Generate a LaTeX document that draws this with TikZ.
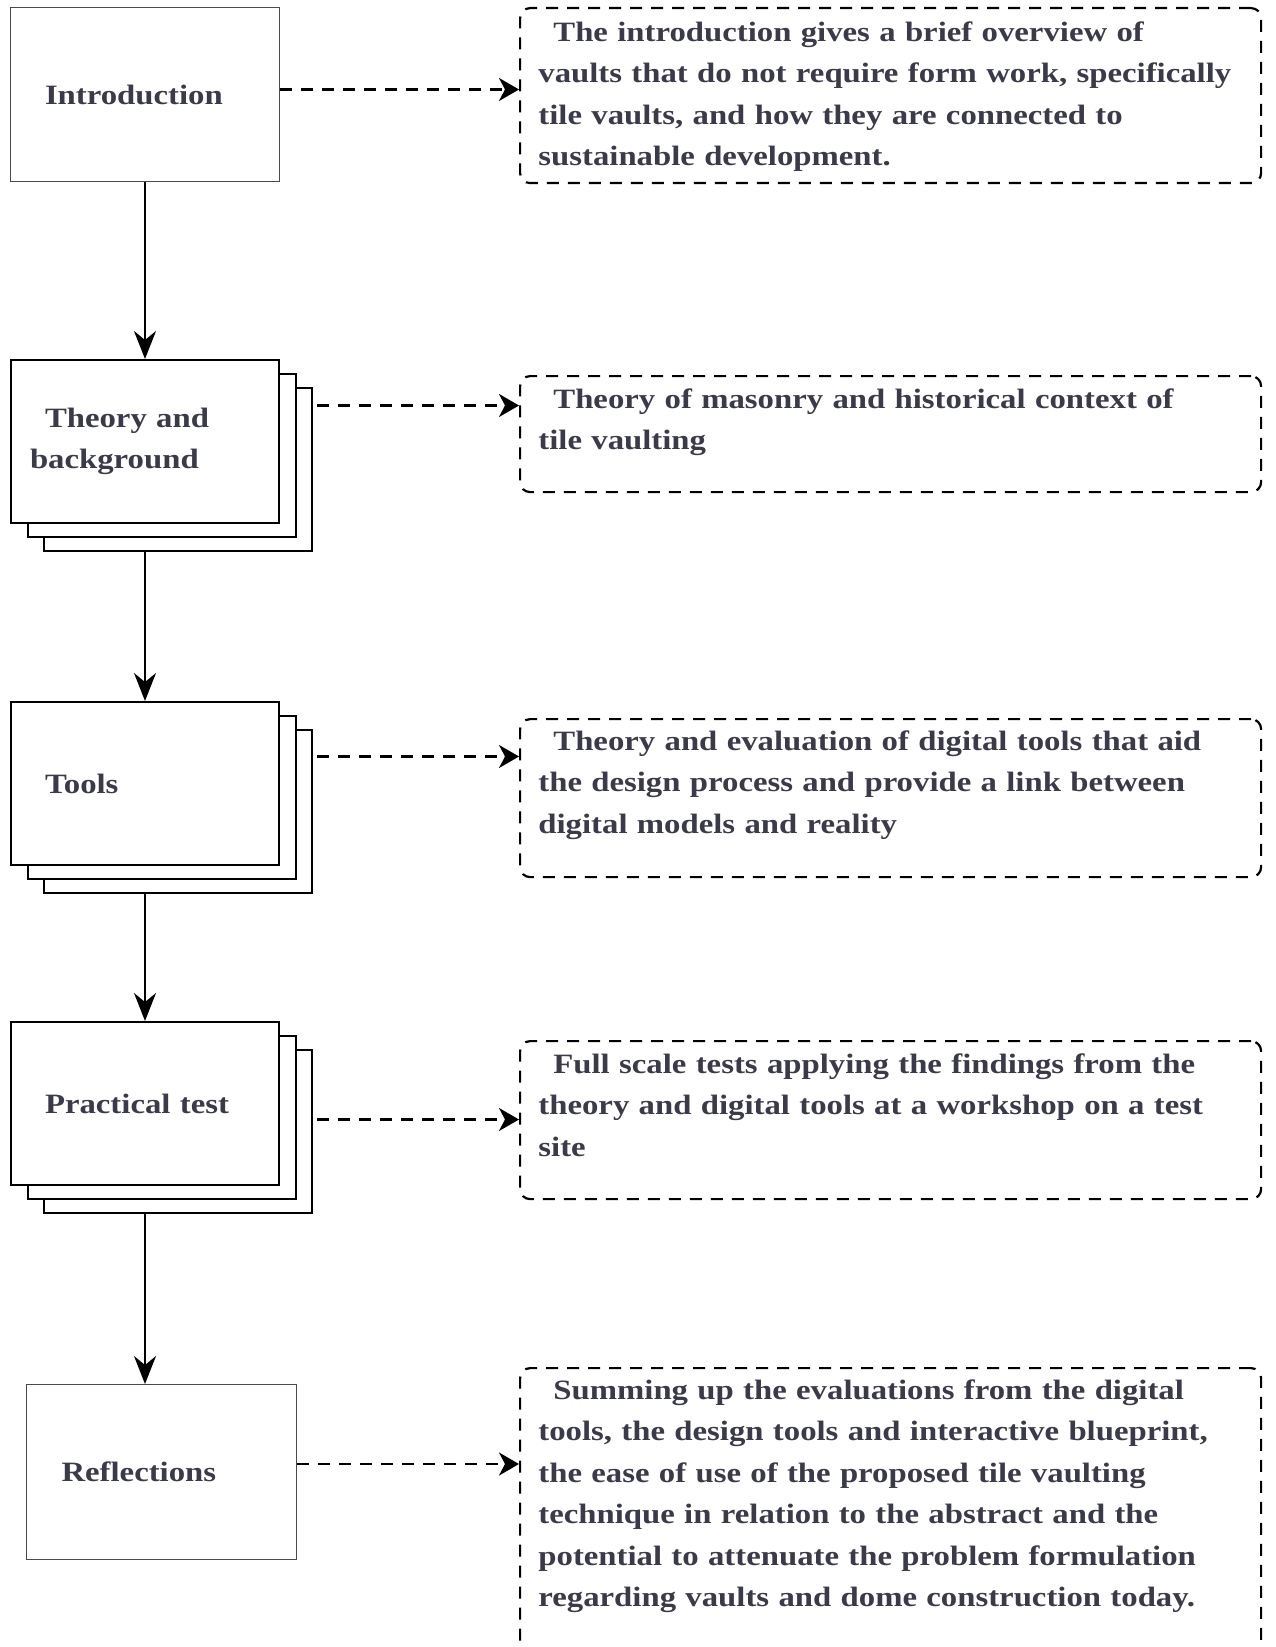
\documentclass[tikz,border=0pt]{standalone}
\usepackage{fontspec}
\setmainfont[FakeStretch=1.17]{Liberation Serif}
\usetikzlibrary{arrows.meta,shadows}
\definecolor{ChText}{HTML}{3B3A48}
\definecolor{ChFrame}{HTML}{4A4A4A}
\newcommand\firstgap{\hspace*{7.5pt}}

\tikzset{
  chapter/.style={draw=ChFrame,line width=0.5pt,fill=white,anchor=north west,
    align=left,text width=115pt,inner xsep=9.5pt,inner ysep=0pt,
    minimum height=87pt,text=ChText,font=\fontsize{14}{20.75}\selectfont\bfseries},
  deck/.style={chapter,draw=black,line width=1pt,minimum height=81.5pt,
    copy shadow={shadow xshift=16.5pt,shadow yshift=-14pt,opacity=1,fill=white,draw=black,line width=1pt},
    copy shadow={shadow xshift=8.25pt,shadow yshift=-7pt,opacity=1,fill=white,draw=black,line width=1pt}},
  note/.style={draw,line width=1.1pt,dash pattern=on 6pt off 4.5pt,rounded corners=5pt,
    anchor=north west,minimum width=370.5pt,inner sep=0pt},
  notetext/.style={anchor=north west,align=left,text width=360pt,inner sep=0pt,
    text=ChText,font=\fontsize{14}{20.75}\selectfont\bfseries},
  flow/.style={-{Stealth[length=14pt,width=11pt,inset=4.5pt]},line width=1pt},
  link/.style={-{Stealth[length=10pt,width=11.5pt,inset=3pt]},line width=1.1pt,dash pattern=on 6pt off 4.5pt}
}

\begin{document}
\begin{tikzpicture}[x=0.5pt,y=-0.5pt]
\path[use as bounding box] (0,0) rectangle (1275,1647);
% chapters
\node[chapter,minimum width=134.5pt] (intro) at (10,7) {\firstgap Introduction};
\node[deck] (theory) at (10,359) {\firstgap Theory and\\background};
\node[deck] (tools) at (10,701) {\firstgap Tools};
\node[deck] (practical) at (10,1021) {\firstgap Practical test};
\node[chapter,minimum width=135pt,minimum height=87.5pt] (reflect) at (26,1384) {\firstgap Reflections};
% descriptions
\node[note,minimum height=87.5pt] (intronote) at (519,7) {};
\node[notetext] (intronotetext) at (538,21) {\firstgap The introduction gives a brief overview of\\
  vaults that do not require form work, specifically\\
  tile vaults, and how they are connected to\\
  sustainable development.};
\node[note,minimum height=58pt] (theorynote) at (519,375) {};
\node[notetext] (theorynotetext) at (538,388) {\firstgap Theory of masonry and historical context of\\
  tile vaulting};
\node[note,minimum height=79pt] (toolsnote) at (519,718) {};
\node[notetext] (toolsnotetext) at (538,730) {\firstgap Theory and evaluation of digital tools that aid\\
  the design process and provide a link between\\
  digital models and reality};
\node[note,minimum height=79pt] (practicalnote) at (519,1040) {};
\node[notetext] (practicalnotetext) at (538,1053) {\firstgap Full scale tests applying the findings from the\\
  theory and digital tools at a workshop on a test\\
  site};
\node[note,minimum height=160pt] (reflectnote) at (519,1367) {};
\node[notetext] (reflectnotetext) at (538,1379) {\firstgap Summing up the evaluations from the digital\\
  tools, the design tools and interactive blueprint,\\
  the ease of use of the proposed tile vaulting\\
  technique in relation to the abstract and the\\
  potential to attenuate the problem formulation\\
  regarding vaults and dome construction today.};
% main flow
\draw[flow] (intro.south) -- (theory.north);
\draw[flow] ([yshift=-14pt]theory.south) -- (tools.north);
\draw[flow] ([yshift=-14pt]tools.south) -- (practical.north);
\draw[flow] ([yshift=-14pt]practical.south) -- (practical.south |- reflect.north);
% links to descriptions
\draw[link] ([yshift=2.5pt]intro.east) -- ([yshift=2.5pt]intro.east -| intronote.west);
\draw[link] ([xshift=18.5pt,yshift=18pt]theory.east) -- ([yshift=18pt]theory.east -| theorynote.west);
\draw[link] ([xshift=18.5pt,yshift=13.5pt]tools.east) -- ([yshift=13.5pt]tools.east -| toolsnote.west);
\draw[link] ([xshift=18.5pt,yshift=-8pt]practical.east) -- ([yshift=-8pt]practical.east -| practicalnote.west);
\draw[link] ([yshift=4pt]reflect.east) -- ([yshift=4pt]reflect.east -| reflectnote.west);
\end{tikzpicture}
\end{document}
